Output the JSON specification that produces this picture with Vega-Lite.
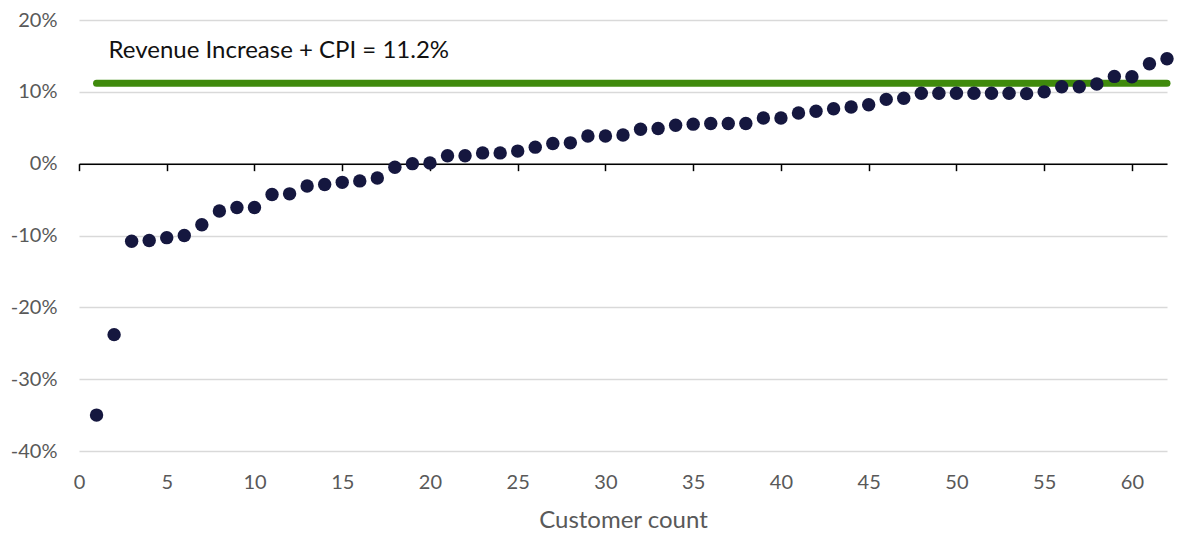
{
  "$schema": "https://vega.github.io/schema/vega-lite/v6.json",
  "width": 1088,
  "height": 431,
  "autosize": {"type": "none"},
  "padding": {"left": 79, "top": 20, "right": 10, "bottom": 86},
  "background": "white",
  "config": {"view": {"stroke": null}, "font": "Lato"},
  "datasets": {
    "points": [
      {"customer": 1, "change": -0.350}, {"customer": 2, "change": -0.238}, {"customer": 3, "change": -0.108},
      {"customer": 4, "change": -0.107}, {"customer": 5, "change": -0.103}, {"customer": 6, "change": -0.100},
      {"customer": 7, "change": -0.085}, {"customer": 8, "change": -0.066}, {"customer": 9, "change": -0.061},
      {"customer": 10, "change": -0.061}, {"customer": 11, "change": -0.043}, {"customer": 12, "change": -0.042},
      {"customer": 13, "change": -0.031}, {"customer": 14, "change": -0.029}, {"customer": 15, "change": -0.026},
      {"customer": 16, "change": -0.024}, {"customer": 17, "change": -0.020}, {"customer": 18, "change": -0.005},
      {"customer": 19, "change": 0.000}, {"customer": 20, "change": 0.001}, {"customer": 21, "change": 0.011},
      {"customer": 22, "change": 0.011}, {"customer": 23, "change": 0.015}, {"customer": 24, "change": 0.015},
      {"customer": 25, "change": 0.0175}, {"customer": 26, "change": 0.023}, {"customer": 27, "change": 0.028},
      {"customer": 28, "change": 0.029}, {"customer": 29, "change": 0.0385}, {"customer": 30, "change": 0.0385},
      {"customer": 31, "change": 0.040}, {"customer": 32, "change": 0.048}, {"customer": 33, "change": 0.049},
      {"customer": 34, "change": 0.0535}, {"customer": 35, "change": 0.055}, {"customer": 36, "change": 0.056},
      {"customer": 37, "change": 0.056}, {"customer": 38, "change": 0.056}, {"customer": 39, "change": 0.0635},
      {"customer": 40, "change": 0.0635}, {"customer": 41, "change": 0.0705}, {"customer": 42, "change": 0.073},
      {"customer": 43, "change": 0.0765}, {"customer": 44, "change": 0.079}, {"customer": 45, "change": 0.082},
      {"customer": 46, "change": 0.0895}, {"customer": 47, "change": 0.091}, {"customer": 48, "change": 0.098},
      {"customer": 49, "change": 0.098}, {"customer": 50, "change": 0.098}, {"customer": 51, "change": 0.098},
      {"customer": 52, "change": 0.098}, {"customer": 53, "change": 0.098}, {"customer": 54, "change": 0.0975},
      {"customer": 55, "change": 0.100}, {"customer": 56, "change": 0.107}, {"customer": 57, "change": 0.107},
      {"customer": 58, "change": 0.111}, {"customer": 59, "change": 0.1215}, {"customer": 60, "change": 0.121},
      {"customer": 61, "change": 0.139}, {"customer": 62, "change": 0.146}
    ],
    "target": [
      {"customer": 1, "change": 0.112},
      {"customer": 62, "change": 0.112}
    ],
    "label": [
      {"customer": 1, "change": 0.112, "text": "Revenue Increase + CPI = 11.2%"}
    ]
  },
  "layer": [
    {
      "data": {"name": "target"},
      "mark": {"type": "line", "color": "#3f8a0c", "strokeWidth": 7, "strokeCap": "round"},
      "encoding": {
        "x": {
          "field": "customer", "type": "quantitative",
          "scale": {"domain": [0, 62], "nice": false, "zero": false},
          "axis": {
            "orient": "bottom", "offset": -287.33, "labels": false, "title": null, "grid": false,
            "domain": true, "domainColor": "#000000", "domainWidth": 1.5,
            "ticks": true, "tickColor": "#000000", "tickSize": 7, "tickWidth": 1.5,
            "values": [0, 5, 10, 15, 20, 25, 30, 35, 40, 45, 50, 55, 60]
          }
        },
        "y": {
          "field": "change", "type": "quantitative",
          "scale": {"domain": [-0.4, 0.2], "nice": false, "zero": false},
          "axis": {
            "format": ".0%", "values": [-0.4, -0.3, -0.2, -0.1, 0, 0.1, 0.2],
            "labelExpr": "replace(datum.label, '\u2212', '-')",
            "grid": true, "gridColor": "#d9d9d9", "gridWidth": 1.5,
            "domain": false, "ticks": false, "labelFontSize": 20, "labelColor": "#595959",
            "labelPadding": 22, "title": null
          }
        }
      }
    },
    {
      "data": {"name": "label"},
      "mark": {"type": "text", "align": "left", "baseline": "middle", "dx": 12, "dy": -32, "fontSize": 24, "color": "#111111"},
      "encoding": {
        "x": {"field": "customer", "type": "quantitative", "axis": null},
        "y": {"field": "change", "type": "quantitative"},
        "text": {"field": "text"}
      }
    },
    {
      "data": {"name": "points"},
      "mark": {"type": "point", "filled": true, "size": 180, "color": "#15173f", "opacity": 1},
      "encoding": {
        "x": {
          "field": "customer", "type": "quantitative",
          "axis": {
            "orient": "bottom",
            "values": [0, 5, 10, 15, 20, 25, 30, 35, 40, 45, 50, 55, 60],
            "grid": false, "domain": false, "ticks": false, "labelFlush": false,
            "title": "Customer count", "labelFontSize": 20, "labelColor": "#595959",
            "titleFontSize": 24, "titleFontWeight": "normal", "titleColor": "#595959",
            "labelPadding": 21, "titlePadding": 16
          }
        },
        "y": {"field": "change", "type": "quantitative"}
      }
    }
  ],
  "resolve": {"axis": {"x": "independent"}}
}
